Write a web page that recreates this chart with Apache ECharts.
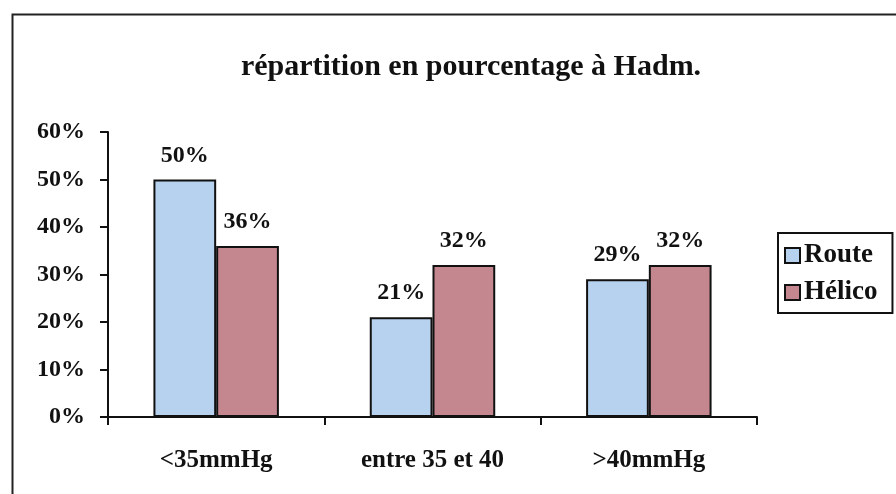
<!DOCTYPE html>
<html><head><meta charset="utf-8">
<script src="https://cdn.jsdelivr.net/npm/echarts@6/dist/echarts.min.js"></script>
<style>html,body{margin:0;padding:0;background:#fff}#c{width:896px;height:494px}</style>
</head><body><div id="c"></div>
<script>
var categories = ['<35mmHg', 'entre 35 et 40', '>40mmHg'];
var routeValues = [50, 21, 29];
var helicoValues = [36, 32, 32];
var seriesNames = ['Route', 'Hélico'];
var titleText = 'répartition en pourcentage à Hadm.';

var FONT = '"Liberation Serif", "Times New Roman", serif';
var chart = echarts.init(document.getElementById('c'), null, {renderer: 'canvas'});
var lbl = {show: true, position: 'top', distance: 12, formatter: '{c}%', color: '#111', fontFamily: FONT, fontWeight: 'bold', fontSize: 24};
chart.setOption({
  backgroundColor: '#fff',
  animation: false,
  graphic: [{type: 'rect', left: 10, top: 12, shape: {width: 900, height: 500}, style: {fill: 'none', stroke: '#222', lineWidth: 2}, z: -1}],
  title: {text: titleText, left: 466, textAlign: 'center', top: 47, textStyle: {fontFamily: FONT, fontWeight: 'bold', fontSize: 30, color: '#111'}},
  legend: {orient: 'vertical', left: 778, top: 233, data: seriesNames, borderColor: '#111', borderWidth: 2, backgroundColor: '#fff',
    padding: [9, 15, 7, 6], itemGap: 10, itemWidth: 15, itemHeight: 15, icon: 'rect',
    textStyle: {fontFamily: FONT, fontWeight: 'bold', fontSize: 27, color: '#111', padding: [0, 0, 0, -1]}},
  grid: {left: 108, right: 139, top: 132, bottom: 77},
  xAxis: {type: 'category', data: categories,
    axisLine: {lineStyle: {color: '#111', width: 2}},
    axisTick: {show: true, length: 8, lineStyle: {color: '#111', width: 2}},
    axisLabel: {margin: 31, color: '#111', fontFamily: FONT, fontWeight: 'bold', fontSize: 25}},
  yAxis: {type: 'value', min: 0, max: 60, interval: 10,
    axisLine: {show: true, lineStyle: {color: '#111', width: 2}},
    axisTick: {show: true, length: 8, lineStyle: {color: '#111', width: 2}},
    splitLine: {show: false},
    axisLabel: {formatter: '{value}%', margin: 23, color: '#111', fontFamily: FONT, fontWeight: 'bold', fontSize: 24}},
  series: [
    {name: seriesNames[0], type: 'bar', data: routeValues, barGap: '0%', barCategoryGap: '42%',
     itemStyle: {color: '#b7d2ef', borderColor: '#111', borderWidth: 2}, label: lbl},
    {name: seriesNames[1], type: 'bar', data: helicoValues,
     itemStyle: {color: '#c4868f', borderColor: '#111', borderWidth: 2}, label: lbl}
  ]
});
</script></body></html>
